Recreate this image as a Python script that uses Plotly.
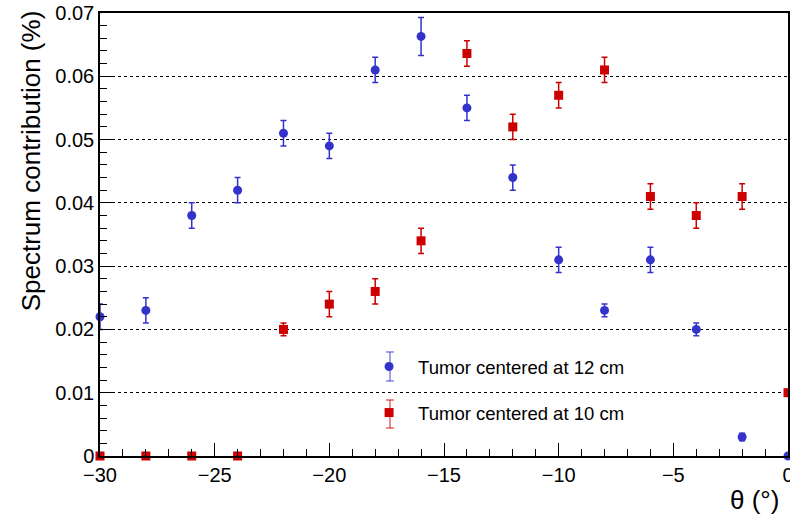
import plotly.graph_objects as go

theta = [-30, -28, -26, -24, -22, -20, -18, -16, -14, -12, -10, -8, -6, -4, -2, 0]

contrib_12 = [0.022, 0.023, 0.038, 0.042, 0.051, 0.049, 0.061, 0.0663, 0.055, 0.044,
              0.031, 0.023, 0.031, 0.020, 0.003, 0.0]
err_12 = [0.002, 0.002, 0.002, 0.002, 0.002, 0.002, 0.002, 0.003, 0.002, 0.002,
          0.002, 0.001, 0.002, 0.001, 0.0006, 0.0]

contrib_10 = [0.0, 0.0, 0.0, 0.0, 0.020, 0.024, 0.026, 0.034, 0.0636, 0.052,
              0.057, 0.061, 0.041, 0.038, 0.041, 0.010]
err_10 = [0.0, 0.0, 0.0, 0.0, 0.001, 0.002, 0.002, 0.002, 0.002, 0.002,
          0.002, 0.002, 0.002, 0.002, 0.002, 0.0005]

label_12 = "Tumor centered at 12 cm"
label_10 = "Tumor centered at 10 cm"

BLUE = "#3333cc"
RED = "#cc0000"
FONT = "Liberation Sans, Arial, sans-serif"

fig = go.Figure()
fig.add_trace(go.Scatter(
    x=theta, y=contrib_12, mode="markers", name=label_12,
    marker=dict(symbol="circle", size=9, color=BLUE),
    error_y=dict(type="data", array=err_12, visible=True, color=BLUE, thickness=1.5, width=3),
    cliponaxis=False, legend="legend",
))
fig.add_trace(go.Scatter(
    x=theta, y=contrib_10, mode="markers", name=label_10,
    marker=dict(symbol="square", size=9, color=RED),
    error_y=dict(type="data", array=err_10, visible=True, color=RED, thickness=1.5, width=3),
    cliponaxis=False, legend="legend2",
))

fig.update_layout(
    width=790, height=516,
    margin=dict(l=100, r=2, t=13, b=60, autoexpand=False),
    paper_bgcolor="white", plot_bgcolor="white",
    font=dict(family=FONT, size=20, color="black"),
    showlegend=True,
    legend=dict(x=0.378, y=0.201, xanchor="left", yanchor="middle", itemwidth=48,
                bgcolor="rgba(0,0,0,0)", font=dict(size=18.5, family=FONT)),
    legend2=dict(x=0.378, y=0.097, xanchor="left", yanchor="middle", itemwidth=48,
                 bgcolor="rgba(0,0,0,0)", font=dict(size=18.5, family=FONT)),
)

# error-bar decorations for the legend icons
for color, y0, y1 in [(BLUE, 0.1693, 0.2348), (RED, 0.0632, 0.1264)]:
    lc = "rgba(51,51,204,0.6)" if color == BLUE else "rgba(204,0,0,0.6)"
    xc = 0.4215
    fig.add_shape(type="line", xref="paper", yref="paper", x0=xc, x1=xc, y0=y0, y1=y1,
                  line=dict(color=lc, width=1.5), layer="below")
    for yy in (y0, y1):
        fig.add_shape(type="line", xref="paper", yref="paper", x0=xc - 0.0058, x1=xc + 0.0058,
                      y0=yy, y1=yy, line=dict(color=lc, width=1.5), layer="below")

fig.update_xaxes(
    range=[-30, 0], dtick=5, tick0=0, showgrid=False, zeroline=False, automargin=False,
    ticks="inside", ticklen=13, tickwidth=1, tickcolor="black",
    minor=dict(dtick=1, ticks="inside", ticklen=7, tickcolor="black", showgrid=False),
    showline=True, linecolor="black", linewidth=1.5, mirror=True,
    tickfont=dict(size=20, family=FONT), ticklabelstandoff=0, ticklabeloverflow="allow",
)
fig.update_yaxes(
    range=[0, 0.07], dtick=0.01, tick0=0, zeroline=False, automargin=False,
    showgrid=True, gridcolor="black", griddash="dot", gridwidth=1,
    ticks="inside", ticklen=13, tickwidth=1, tickcolor="black",
    minor=dict(dtick=0.002, ticks="inside", ticklen=7, tickcolor="black", showgrid=False),
    showline=True, linecolor="black", linewidth=1.5, mirror=True,
    tickfont=dict(size=20, family=FONT), ticklabeloverflow="allow",
)

fig.add_annotation(text="Spectrum contribution (%)", xref="paper", yref="paper",
                   x=-0.1, y=1.01, xanchor="center", yanchor="top", textangle=-90,
                   showarrow=False, font=dict(size=26, family=FONT))
fig.add_annotation(text="θ (°)", xref="paper", yref="paper",
                   x=0.99, y=-0.06, xanchor="right", yanchor="top",
                   showarrow=False, font=dict(size=26, family=FONT))

fig.write_html("out.html", config={"displayModeBar": False},
               post_script="document.body.style.margin='0px';")
